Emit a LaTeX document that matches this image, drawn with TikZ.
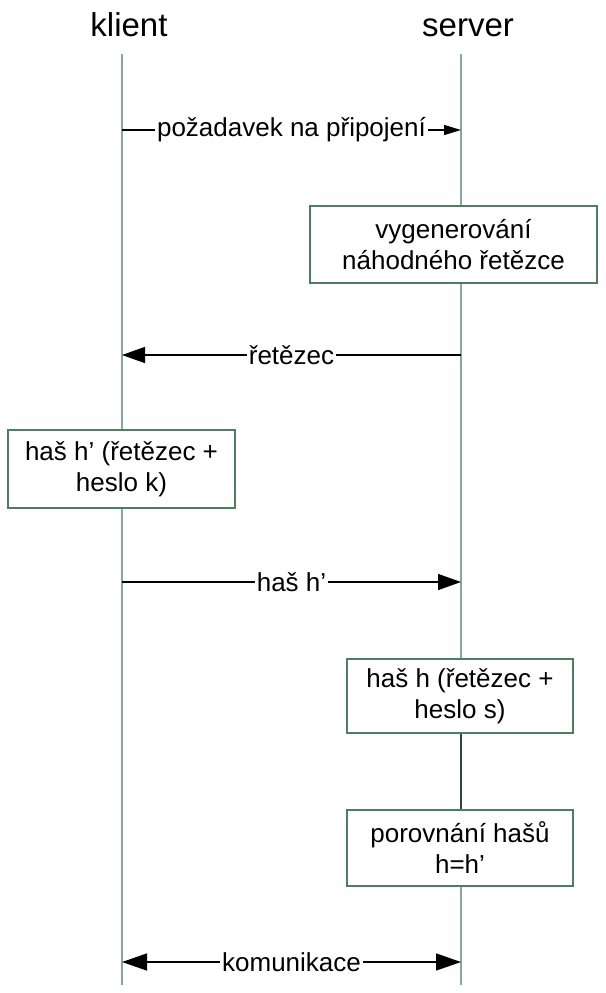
\documentclass[tikz,border=0pt]{standalone}
\usepackage{fontspec}
\setmainfont{Liberation Sans}
\usetikzlibrary{arrows.meta}

\definecolor{lifegreen}{RGB}{138,166,150}
\definecolor{boxgreen}{RGB}{80,125,95}
\definecolor{darkgreen}{RGB}{45,70,55}

\tikzset{
  lifeline/.style={draw=lifegreen, line width=2pt},
  actbox/.style={draw=boxgreen, line width=1.3pt, fill=white, align=center,
    font=\fontsize{26}{31}\selectfont, inner sep=0pt},
  msg/.style={draw=black, line width=1.4pt},
  msglabel/.style={fill=white, inner sep=2pt, font=\fontsize{26}{31}\selectfont},
  bigtip/.style={-{Triangle[length=23pt,width=16pt]}},
  title/.style={font=\fontsize{33}{38}\selectfont, anchor=base},
}

\begin{document}
\begin{tikzpicture}[x=1pt, y=-1pt]
\useasboundingbox (0,0) rectangle (605,993);
% titles
\node[title] (klient) at (129,36) {klient};
\node[title] (server) at (468,36) {server};
% lifelines
\coordinate (ktop) at (122,54);
\coordinate (kbot) at (122,985);
\coordinate (stop) at (461,54);
\coordinate (sbot) at (461,985);
\draw[lifeline] (ktop) -- (kbot);
\draw[lifeline] (stop) -- (sbot);
% message end points
\coordinate (k1) at (122,130);
\coordinate (s1) at (461,130);
\coordinate (k2) at (122,355);
\coordinate (s2) at (461,355);
\coordinate (k3) at (122,582);
\coordinate (s3) at (461,582);
\coordinate (k4) at (122,962);
\coordinate (s4) at (461,962);
% boxes
\node[actbox, minimum width=287pt, minimum height=77pt] (gen) at (453.5,244.5)
  {vygenerování\\náhodného řetězce};
\node[actbox, minimum width=227pt, minimum height=78pt] (hashk) at (121.5,469)
  {haš h’ (řetězec +\\heslo k)};
\node[actbox, minimum width=226pt, minimum height=74pt] (hashs) at (460,696)
  {haš h (řetězec +\\heslo s)};
\node[actbox, minimum width=226pt, minimum height=76pt] (cmp) at (460,848)
  {porovnání hašů\\h=h’};
\draw[draw=darkgreen, line width=2pt] (hashs.south -| stop) -- (cmp.north -| stop);
% messages
\draw[msg, -{Triangle[length=17pt,width=10pt]}] (k1) -- node[msglabel] (m1) {požadavek na připojení} (s1);
\draw[msg, bigtip] (s2) -- node[msglabel] (m2) {řetězec} (k2);
\draw[msg, bigtip] (k3) -- node[msglabel] (m3) {haš h’} (s3);
\draw[msg, {Triangle[length=25pt,width=17pt]}-{Triangle[length=25pt,width=17pt]}] (k4) -- node[msglabel] (m4) {komunikace} (s4);
\end{tikzpicture}
\end{document}
